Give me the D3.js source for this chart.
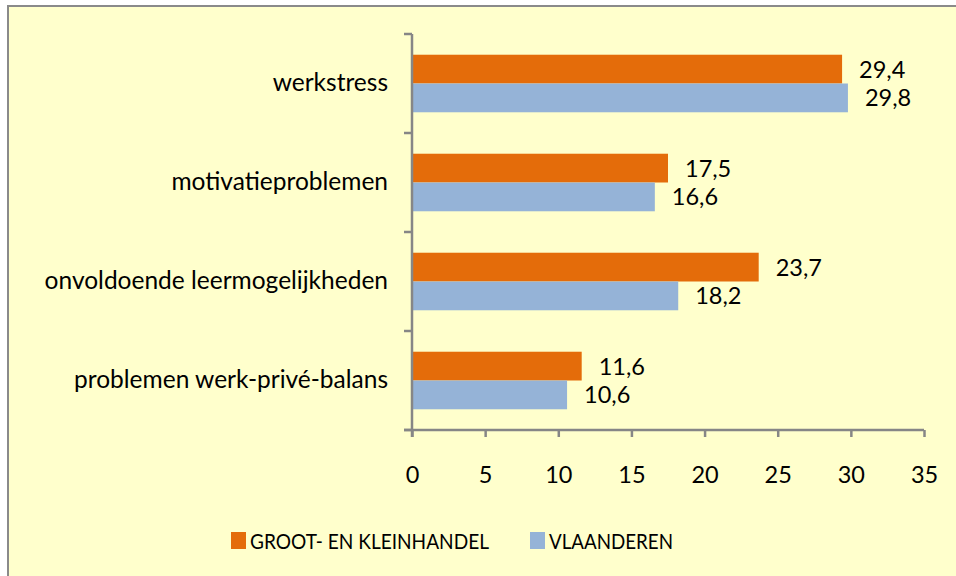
<!DOCTYPE html>
<html><head><meta charset="utf-8">
<script src="https://cdn.jsdelivr.net/npm/d3@7"></script>
<style>
html,body{margin:0;padding:0;background:#fff;}
svg{display:block;font-family:Lato, "Open Sans", sans-serif;}
</style></head>
<body>
<svg id="chart" width="956" height="576"></svg>
<script>
const categories = ["werkstress","motivatieproblemen","onvoldoende leermogelijkheden","problemen werk-privé-balans"];
const seriesNames = ["GROOT- EN KLEINHANDEL","VLAANDEREN"];
const grootKleinhandel = [29.4, 17.5, 23.7, 11.6];
const vlaanderen = [29.8, 16.6, 18.2, 10.6];
const xTicks = [0,5,10,15,20,25,30,35];
const colors = ["#E46C0A","#95B3D7"];

const svg = d3.select("#chart");
// background + border
svg.append("rect").attr("x",8).attr("y",6).attr("width",960).attr("height",580).attr("fill","#FFFFCC");
svg.append("path").attr("d","M8,590 L8,6 L960,6").attr("fill","none").attr("stroke","#8a8a8a").attr("stroke-width",2);

const x = d3.scaleLinear().domain([0,35]).range([412,924]);
const y = d3.scaleBand().domain(categories).range([34,430]).padding(0);
const ySub = d3.scaleBand().domain(seriesNames).range([0,y.bandwidth()]).paddingInner(0).paddingOuter(0.72);

const data = categories.map((c,i)=>({cat:c, vals:[grootKleinhandel[i], vlaanderen[i]]}));
const fmt = v => d3.format(".1f")(v).replace(".",",");

const g = svg.append("g");
data.forEach(d=>{
  d.vals.forEach((v,j)=>{
    const s = seriesNames[j];
    g.append("rect")
      .attr("x",x(0)).attr("y",y(d.cat)+ySub(s))
      .attr("width",x(v)-x(0)).attr("height",ySub.bandwidth())
      .attr("fill",colors[j]);
    g.append("text")
      .attr("x",x(v)+17).attr("y",y(d.cat)+ySub(s)+ySub.bandwidth()/2)
      .attr("dy","0.36em").attr("font-size",23.5).attr("fill","#000")
      .text(fmt(v));
  });
});

const axisColor = "#868686";
// x axis
const xAxis = svg.append("g").attr("transform","translate(0,430)")
  .call(d3.axisBottom(x).tickValues(xTicks).tickSize(7).tickSizeOuter(0).tickPadding(29).tickFormat(d3.format("d")));
xAxis.select(".domain").attr("stroke",axisColor).attr("stroke-width",2.5).attr("d","M404,0H924");
xAxis.selectAll(".tick line").attr("stroke",axisColor).attr("stroke-width",2.5);
xAxis.selectAll(".tick text").attr("font-size",23.5).attr("fill","#000").attr("font-family","Lato, 'Open Sans', sans-serif");

// y axis
const yAxis = svg.append("g").attr("transform","translate(412,0)")
  .call(d3.axisLeft(y).tickSize(0).tickPadding(24));
yAxis.select(".domain").attr("stroke",axisColor).attr("stroke-width",2.5).attr("d","M0,34V437");
yAxis.selectAll(".tick text").attr("font-size",24.5).attr("fill","#000").attr("font-family","Lato, 'Open Sans', sans-serif");
const bounds = categories.map(c=>y(c)).concat([y.range()[1]]);
yAxis.selectAll("line.bound").data(bounds).enter().append("line")
  .attr("class","bound").attr("x1",-8).attr("x2",0).attr("y1",d=>d).attr("y2",d=>d)
  .attr("stroke",axisColor).attr("stroke-width",2.5);

// legend
const legend = svg.append("g");
const legX = [231, 530];
const legW = [239, 124];
seriesNames.forEach((s,i)=>{
  legend.append("rect").attr("x",legX[i]).attr("y",532).attr("width",15).attr("height",17).attr("fill",colors[i]);
  legend.append("text").attr("x",legX[i]+19).attr("y",541).attr("dy","0.36em")
    .attr("font-size",22).attr("fill","#000")
    .attr("textLength",legW[i]).attr("lengthAdjust","spacingAndGlyphs").text(s);
});
</script>
</body></html>
